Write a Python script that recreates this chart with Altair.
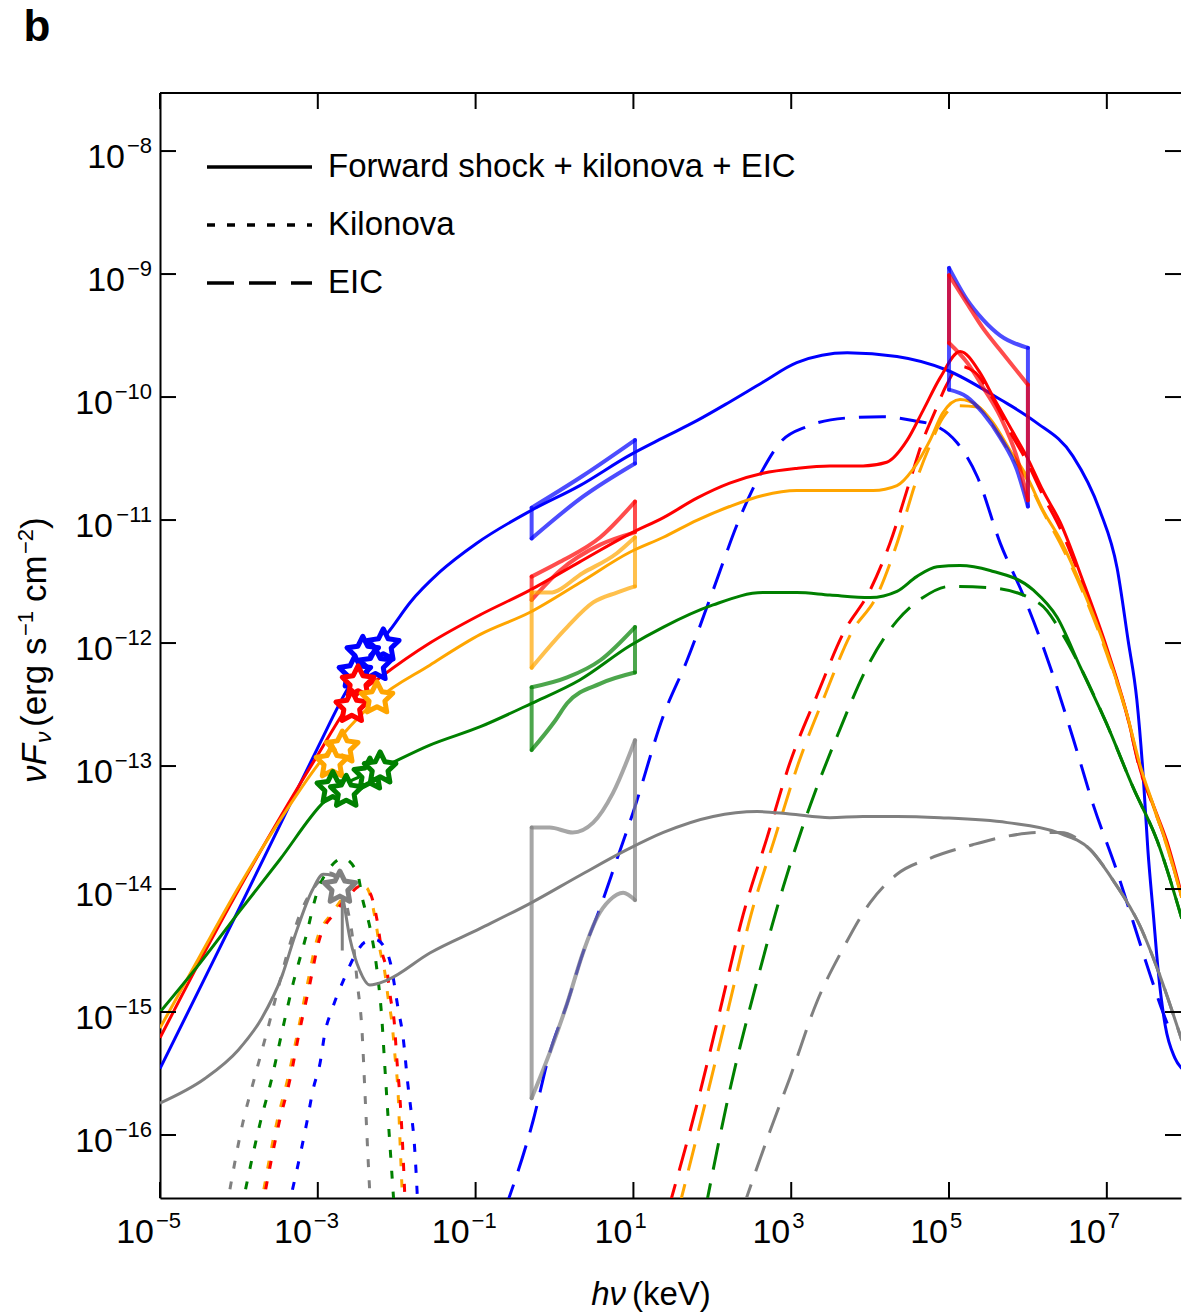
import math
import altair as alt
import pandas as pd

# ---------------- values (log10 units) ----------------
X_RANGE = [-5.0, 7.94]          # log10(h nu / keV)
Y_RANGE = [-16.512, -7.528]     # log10(nu F_nu / erg s-1 cm-2)
X_TICK_EXP = [-5, -3, -1, 1, 3, 5, 7]
Y_TICK_EXP = [-16, -15, -14, -13, -12, -11, -10, -9, -8]

SERIES = ["blue", "red", "orange", "green", "gray"]
SERIES_COLORS = ["#0000ff", "#ff0000", "#ffa500", "#008000", "#808080"]
LEGEND_LABELS = ["Forward shock + kilonova + EIC", "Kilonova", "EIC"]

# --- Forward shock + kilonova + EIC (solid) ---
blue_solid_lx = [-5.00, -4.49, -3.99, -3.48, -3.00, -2.62, -2.34, -2.08, -1.83, -1.45, -0.99, -0.29, 0.32, 0.96,
                 1.38, 1.81, 2.22, 2.64, 3.07, 3.71, 4.34, 4.97, 5.65, 6.09, 6.57, 6.91, 7.13, 7.27, 7.38, 7.46,
                 7.52, 7.59, 7.65, 7.74, 7.86, 7.95]
blue_solid_ly = [-15.46, -14.80, -14.15, -13.48, -12.85, -12.37, -12.10, -11.89, -11.67, -11.42, -11.19, -10.92,
                 -10.72, -10.47, -10.33, -10.19, -10.04, -9.88, -9.72, -9.64, -9.67, -9.78, -10.02, -10.20, -10.48,
                 -10.92, -11.39, -11.98, -12.46, -13.07, -13.68, -14.21, -14.66, -15.11, -15.37, -15.46]

red_solid_lx = [-5.00, -4.49, -3.99, -3.48, -3.00, -2.53, -2.21, -1.58, -0.94, -0.31, 0.32, 0.96, 1.38, 1.81, 2.22,
                2.64, 3.07, 3.49, 3.91, 4.21, 4.47, 4.67, 4.89, 5.14, 5.39, 5.56, 5.77, 5.99, 6.19, 6.41, 6.70,
                7.00, 7.26, 7.42, 7.59, 7.76, 7.95]
red_solid_ly = [-15.21, -14.58, -13.99, -13.42, -12.91, -12.44, -12.28, -12.00, -11.77, -11.57, -11.34, -11.11,
                -10.98, -10.82, -10.70, -10.62, -10.58, -10.56, -10.56, -10.53, -10.35, -10.11, -9.84, -9.63,
                -9.80, -10.00, -10.24, -10.49, -10.76, -11.02, -11.50, -12.04, -12.59, -13.02, -13.32, -13.61,
                -14.05]

orange_solid_lx = [-5.00, -4.49, -3.99, -3.48, -3.00, -2.72, -2.25, -1.58, -0.94, -0.31, 0.32, 0.96, 1.38, 1.81,
                   2.22, 2.64, 3.07, 3.49, 4.04, 4.34, 4.54, 4.76, 4.92, 5.14, 5.36, 5.56, 5.77, 5.99, 6.19, 6.41,
                   6.70, 7.00, 7.26, 7.42, 7.59, 7.76, 7.95]
orange_solid_ly = [-15.13, -14.54, -13.97, -13.44, -12.99, -12.77, -12.46, -12.18, -11.93, -11.75, -11.51, -11.26,
                   -11.14, -11.00, -10.89, -10.80, -10.76, -10.76, -10.76, -10.72, -10.59, -10.35, -10.13, -10.02,
                   -10.07, -10.21, -10.43, -10.65, -10.92, -11.16, -11.57, -12.07, -12.59, -12.99, -13.32, -13.64,
                   -14.07]

green_solid_lx = [-5.00, -4.49, -3.99, -3.48, -2.95, -2.66, -2.24, -1.58, -0.94, -0.29, 0.32, 0.96, 1.38, 2.01,
                  2.64, 3.07, 3.49, 4.00, 4.34, 4.59, 4.85, 5.14, 5.52, 6.07, 6.37, 6.66, 7.00, 7.33, 7.64, 7.95]
green_solid_ly = [-15.00, -14.60, -14.18, -13.76, -13.31, -13.15, -13.03, -12.83, -12.68, -12.49, -12.30, -12.02,
                  -11.87, -11.69, -11.59, -11.59, -11.61, -11.63, -11.58, -11.46, -11.38, -11.37, -11.41, -11.57,
                  -11.79, -12.19, -12.66, -13.17, -13.61, -14.24]

gray_solid_lx = [-5.00, -4.43, -4.01, -3.71, -3.45, -3.29, -3.07, -2.93, -2.81, -2.69, -2.59, -2.47, -2.34, -2.12,
                 -1.58, -0.94, -0.29, 0.32, 0.92, 1.38, 2.01, 2.57, 2.98, 3.49, 3.91, 4.34, 4.89, 5.74, 6.37, 6.79,
                 7.08, 7.42, 7.67, 7.95]
gray_solid_ly = [-15.74, -15.54, -15.31, -15.05, -14.70, -14.38, -14.01, -13.88, -13.89, -14.05, -14.41, -14.66,
                 -14.78, -14.74, -14.52, -14.32, -14.11, -13.89, -13.68, -13.54, -13.41, -13.37, -13.39, -13.42,
                 -13.41, -13.41, -13.42, -13.46, -13.54, -13.68, -13.93, -14.30, -14.70, -15.23]

# --- Kilonova (dotted) ---
gray_dot_lx = [-4.16, -3.95, -3.80, -3.64, -3.50, -3.35, -3.19, -3.00, -2.85, -2.72, -2.62, -2.55, -2.50, -2.44,
               -2.40, -2.36, -2.33]
gray_dot_ly = [-16.61, -15.90, -15.53, -15.15, -14.80, -14.44, -14.15, -13.95, -13.87, -13.93, -14.17, -14.44,
               -14.76, -15.15, -15.69, -16.23, -16.61]
green_dot_lx = [-3.97, -3.73, -3.58, -3.45, -3.31, -3.16, -3.00, -2.85, -2.68, -2.50, -2.43, -2.34, -2.25, -2.19,
                -2.15, -2.11, -2.07, -2.03]
green_dot_ly = [-16.61, -15.90, -15.53, -15.15, -14.76, -14.41, -14.01, -13.83, -13.75, -13.87, -14.09, -14.31,
                -14.66, -15.04, -15.45, -15.85, -16.23, -16.61]
orange_dot_lx = [-3.73, -3.52, -3.38, -3.25, -3.14, -3.01, -2.81, -2.63, -2.50, -2.38, -2.27, -2.21, -2.15, -2.11,
                 -2.06, -2.02, -1.98, -1.96, -1.92]
orange_dot_ly = [-16.61, -15.90, -15.54, -15.15, -14.80, -14.41, -14.19, -14.03, -13.96, -13.99, -14.25, -14.50,
                 -14.68, -14.88, -15.09, -15.37, -15.69, -16.02, -16.61]
red_dot_lx = [-3.71, -3.49, -3.35, -3.23, -3.11, -2.98, -2.78, -2.60, -2.47, -2.35, -2.25, -2.19, -2.12, -2.08,
              -2.03, -2.00, -1.96, -1.93, -1.89]
red_dot_ly = [-16.61, -15.90, -15.54, -15.15, -14.80, -14.41, -14.19, -14.05, -13.98, -14.02, -14.25, -14.50,
              -14.68, -14.88, -15.09, -15.37, -15.69, -16.02, -16.61]
blue_dot_lx = [-3.38, -3.14, -3.06, -2.97, -2.91, -2.82, -2.66, -2.53, -2.40, -2.27, -2.17, -2.08, -1.98, -1.92,
               -1.86, -1.81, -1.78, -1.73]
blue_dot_ly = [-16.61, -15.90, -15.63, -15.41, -15.17, -14.98, -14.72, -14.54, -14.43, -14.41, -14.46, -14.60,
               -14.98, -15.20, -15.58, -15.85, -16.04, -16.61]

# --- EIC (dashed) ---
blue_dash_lx = [-0.63, -0.27, -0.06, 0.16, 0.36, 0.58, 0.79, 1.00, 1.38, 1.68, 2.01, 2.35, 2.64, 2.86, 3.20, 3.71,
                4.16, 4.54, 4.85, 5.10, 5.36, 5.65, 5.94, 6.28, 6.57, 6.83, 7.13, 7.33, 7.55, 7.71, 7.80]
blue_dash_ly = [-16.61, -15.88, -15.33, -14.93, -14.52, -14.15, -13.76, -13.37, -12.59, -12.14, -11.57, -10.98,
                -10.59, -10.37, -10.24, -10.17, -10.16, -10.19, -10.24, -10.37, -10.65, -11.19, -11.61, -12.19,
                -12.77, -13.32, -13.86, -14.26, -14.70, -15.00, -15.15]
red_dash_lx = [1.44, 1.81, 2.10, 2.39, 2.69, 2.98, 3.33, 3.66, 4.00, 4.25, 4.51, 4.67, 4.82, 4.97, 5.14, 5.33,
               5.56, 5.77, 5.99, 6.19, 6.41, 6.70, 7.00, 7.26, 7.42, 7.59, 7.76, 7.95]
red_dash_ly = [-16.61, -15.74, -14.98, -14.21, -13.59, -12.98, -12.42, -11.92, -11.57, -11.19, -10.67, -10.35,
               -10.12, -9.90, -9.75, -9.80, -10.02, -10.28, -10.53, -10.80, -11.07, -11.53, -12.06, -12.60, -13.03,
               -13.33, -13.64, -14.07]
orange_dash_lx = [1.57, 1.91, 2.20, 2.49, 2.79, 3.09, 3.43, 3.76, 4.09, 4.34, 4.59, 4.76, 4.92, 5.10, 5.36, 5.56,
                  5.77, 5.99, 6.19, 6.41, 6.70, 7.00, 7.26, 7.42, 7.59, 7.76, 7.95]
orange_dash_ly = [-16.61, -15.74, -14.98, -14.21, -13.59, -12.98, -12.42, -11.92, -11.61, -11.19, -10.67, -10.39,
                  -10.17, -10.07, -10.08, -10.23, -10.45, -10.67, -10.93, -11.19, -11.59, -12.09, -12.60, -13.01,
                  -13.33, -13.65, -14.07]
green_dash_lx = [1.91, 2.22, 2.57, 2.90, 3.24, 3.58, 4.00, 4.34, 4.67, 5.01, 5.52, 6.15, 6.44, 6.66, 7.00, 7.33,
                 7.64, 7.95]
green_dash_ly = [-16.61, -15.64, -14.74, -13.98, -13.32, -12.76, -12.15, -11.82, -11.63, -11.54, -11.55, -11.68,
                 -11.93, -12.19, -12.66, -13.17, -13.61, -14.24]
gray_dash_lx = [2.38, 2.73, 2.98, 3.33, 3.66, 4.00, 4.34, 4.76, 5.30, 5.74, 6.15, 6.41, 6.79, 7.08, 7.42, 7.67,
                7.95]
gray_dash_ly = [-16.61, -15.97, -15.54, -14.91, -14.48, -14.11, -13.88, -13.75, -13.64, -13.57, -13.54, -13.54,
                -13.68, -13.93, -14.30, -14.70, -15.23]

# --- spectral bow-ties: upper and lower edges ---
blue_bt1_up_lx = [-0.29, 0.36, 1.02]
blue_bt1_up_ly = [-10.90, -10.64, -10.35]
blue_bt1_lo_lx = [-0.29, 0.36, 1.02]
blue_bt1_lo_ly = [-11.15, -10.81, -10.54]
red_bt1_up_lx = [-0.29, 0.07, 0.58, 1.02]
red_bt1_up_ly = [-11.46, -11.34, -11.14, -10.85]
red_bt1_lo_lx = [-0.29, 0.07, 0.58, 1.02]
red_bt1_lo_ly = [-11.65, -11.41, -11.20, -11.10]
orange_bt1_up_lx = [-0.29, -0.06, 0.36, 0.79, 1.02]
orange_bt1_up_ly = [-11.59, -11.59, -11.43, -11.27, -11.14]
orange_bt1_lo_lx = [-0.29, 0.16, 0.49, 0.79, 1.02]
orange_bt1_lo_ly = [-12.20, -11.87, -11.67, -11.59, -11.54]
green_bt1_up_lx = [-0.29, 0.16, 0.58, 1.02]
green_bt1_up_ly = [-12.36, -12.28, -12.14, -11.87]
green_bt1_lo_lx = [-0.29, 0.01, 0.16, 0.58, 1.02]
green_bt1_lo_ly = [-12.87, -12.63, -12.49, -12.33, -12.24]
gray_bt1_up_lx = [-0.29, -0.06, 0.23, 0.49, 0.74, 1.02]
gray_bt1_up_ly = [-13.50, -13.50, -13.54, -13.46, -13.22, -12.79]
gray_bt1_lo_lx = [-0.29, -0.06, 0.16, 0.36, 0.54, 0.70, 0.87, 1.02]
gray_bt1_lo_ly = [-15.70, -15.33, -14.93, -14.52, -14.23, -14.09, -14.03, -14.09]
blue_bt2_up_lx = [5.00, 5.23, 5.43, 5.65, 6.00]
blue_bt2_up_ly = [-8.95, -9.21, -9.37, -9.50, -9.60]
blue_bt2_lo_lx = [5.00, 5.23, 5.43, 5.65, 5.86, 6.00]
blue_bt2_lo_ly = [-9.94, -10.00, -10.13, -10.33, -10.59, -10.89]
red_bt2_up_lx = [5.00, 5.23, 5.43, 5.65, 6.00]
red_bt2_up_ly = [-9.01, -9.24, -9.44, -9.62, -9.90]
red_bt2_lo_lx = [5.00, 5.23, 5.43, 5.65, 5.86, 6.00]
red_bt2_lo_ly = [-9.56, -9.72, -9.92, -10.16, -10.49, -10.84]

# --- optical / UV data points (stars) ---
blue_star_lx = [-2.17, -2.43, -2.27, -2.53]
blue_star_ly = [-12.02, -12.08, -12.18, -12.24]
red_star_lx = [-2.49, -2.57]
red_star_ly = [-12.32, -12.52]
orange_star_lx = [-2.25, -2.69, -2.82]
orange_star_ly = [-12.45, -12.85, -12.97]
green_star_lx = [-2.81, -2.64, -2.34, -2.21]
green_star_ly = [-13.18, -13.21, -13.07, -13.02]
gray_star_lx = [-2.72]
gray_star_ly = [-13.99]
gray_bar_lx = [-2.69]
gray_bar_ly = [-13.99]
gray_bar_ly2 = [-14.50]

# ---------------- helpers ----------------
FONT = "Liberation Sans"
W, H = 1021, 1105
MINUS = "\u2212"


def frame(series, lx, ly, group=None):
    df = pd.DataFrame({"lx": lx, "ly": ly})
    df["x"] = 10.0 ** df["lx"]
    df["y"] = 10.0 ** df["ly"]
    df["series"] = series
    df["g"] = group or series
    df["i"] = range(len(df))
    return df


def bowtie(series, name, up_lx, up_ly, lo_lx, lo_ly):
    parts = [
        frame(series, up_lx, up_ly, name + "_up"),
        frame(series, lo_lx, lo_ly, name + "_lo"),
        frame(series, [up_lx[0], lo_lx[0]], [up_ly[0], lo_ly[0]], name + "_l"),
        frame(series, [up_lx[-1], lo_lx[-1]], [up_ly[-1], lo_ly[-1]], name + "_r"),
    ]
    return pd.concat(parts)


X_SCALE = alt.Scale(type="log", domain=[10.0 ** X_RANGE[0], 10.0 ** X_RANGE[1]], nice=False)
Y_SCALE = alt.Scale(type="log", domain=[10.0 ** Y_RANGE[0], 10.0 ** Y_RANGE[1]], nice=False)
X_AXIS = alt.Axis(values=[10.0 ** e for e in X_TICK_EXP], labels=False, title=None, ticks=False, tickSize=0,
                  grid=False, domainColor="black", domainWidth=2)
Y_AXIS = alt.Axis(values=[10.0 ** e for e in Y_TICK_EXP], labels=False, title=None, ticks=False, tickSize=0,
                  grid=False, domainColor="black", domainWidth=2)


def X():
    return alt.X("x:Q", scale=X_SCALE, axis=X_AXIS)


def Y():
    return alt.Y("y:Q", scale=Y_SCALE, axis=Y_AXIS)


COLOR = alt.Color("series:N", scale=alt.Scale(domain=SERIES, range=SERIES_COLORS), legend=None)
STROKE = alt.Stroke("series:N", scale=alt.Scale(domain=SERIES, range=SERIES_COLORS), legend=None)

solid_df = pd.concat([
    frame("blue", blue_solid_lx, blue_solid_ly),
    frame("red", red_solid_lx, red_solid_ly),
    frame("orange", orange_solid_lx, orange_solid_ly),
    frame("green", green_solid_lx, green_solid_ly),
    frame("gray", gray_solid_lx, gray_solid_ly),
])
dot_df = pd.concat([
    frame("gray", gray_dot_lx, gray_dot_ly),
    frame("green", green_dot_lx, green_dot_ly),
    frame("orange", orange_dot_lx, orange_dot_ly),
    frame("red", red_dot_lx, red_dot_ly),
    frame("blue", blue_dot_lx, blue_dot_ly),
])
dash_df = pd.concat([
    frame("blue", blue_dash_lx, blue_dash_ly),
    frame("red", red_dash_lx, red_dash_ly),
    frame("orange", orange_dash_lx, orange_dash_ly),
    frame("green", green_dash_lx, green_dash_ly),
    frame("gray", gray_dash_lx, gray_dash_ly),
])
bt_df = pd.concat([
    bowtie("blue", "b1", blue_bt1_up_lx, blue_bt1_up_ly, blue_bt1_lo_lx, blue_bt1_lo_ly),
    bowtie("red", "r1", red_bt1_up_lx, red_bt1_up_ly, red_bt1_lo_lx, red_bt1_lo_ly),
    bowtie("orange", "o1", orange_bt1_up_lx, orange_bt1_up_ly, orange_bt1_lo_lx, orange_bt1_lo_ly),
    bowtie("green", "g1", green_bt1_up_lx, green_bt1_up_ly, green_bt1_lo_lx, green_bt1_lo_ly),
    bowtie("gray", "k1", gray_bt1_up_lx, gray_bt1_up_ly, gray_bt1_lo_lx, gray_bt1_lo_ly),
    bowtie("blue", "b2", blue_bt2_up_lx, blue_bt2_up_ly, blue_bt2_lo_lx, blue_bt2_lo_ly),
    bowtie("red", "r2", red_bt2_up_lx, red_bt2_up_ly, red_bt2_lo_lx, red_bt2_lo_ly),
])
star_df = pd.concat([
    frame("blue", blue_star_lx, blue_star_ly),
    frame("red", red_star_lx, red_star_ly),
    frame("orange", orange_star_lx, orange_star_ly),
    frame("green", green_star_lx, green_star_ly),
    frame("gray", gray_star_lx, gray_star_ly),
])
bar_df = frame("gray", gray_bar_lx, gray_bar_ly)
bar_df["y2"] = [10.0 ** v for v in gray_bar_ly2]


def star_path(inner=0.5):
    pts = []
    for k in range(10):
        r = 1.0 if k % 2 == 0 else inner
        a = -math.pi / 2 + k * math.pi / 5
        pts.append((r * math.cos(a), r * math.sin(a)))
    return "M" + " L".join(f"{px:.3f},{py:.3f}" for px, py in pts) + " Z"


DOT = [8, 13]
DASH = [27, 14]


def curves(df, dash=None, width=3):
    kw = dict(clip=True, interpolate="monotone", strokeWidth=width)
    if dash:
        kw["strokeDash"] = dash
    return alt.Chart(df).mark_line(**kw).encode(x=X(), y=Y(), color=COLOR, detail="g:N", order="i:Q")


dashed = curves(dash_df, DASH)
dotted = curves(dot_df, DOT)
solid = curves(solid_df)
bowties = alt.Chart(bt_df).mark_line(clip=True, interpolate="monotone", strokeWidth=4, opacity=0.7,
                                     strokeCap="round").encode(
    x=X(), y=Y(), color=COLOR, detail="g:N", order="i:Q")
errbar = alt.Chart(bar_df).mark_rule(color="#808080", strokeWidth=3).encode(x=X(), y=Y(), y2="y2:Q")
stars = alt.Chart(star_df).mark_point(shape=star_path(), size=1100, fill="white", fillOpacity=1,
                                      strokeWidth=5, opacity=1, strokeJoin="round").encode(
    x=X(), y=Y(), stroke=STROKE)

# --- frame ticks (pointing inwards) ---
xt = pd.DataFrame({"x": [10.0 ** e for e in X_TICK_EXP]})
yt = pd.DataFrame({"y": [10.0 ** e for e in Y_TICK_EXP]})
TK = 16
tick_bottom = alt.Chart(xt).mark_rule(color="black", strokeWidth=2).encode(
    x=X(), y=alt.value(H), y2=alt.value(H - TK))
tick_top = alt.Chart(xt).mark_rule(color="black", strokeWidth=2).encode(
    x=X(), y=alt.value(0), y2=alt.value(TK))
tick_left = alt.Chart(yt).mark_rule(color="black", strokeWidth=2).encode(
    y=Y(), x=alt.value(0), x2=alt.value(TK))
tick_right = alt.Chart(yt).mark_rule(color="black", strokeWidth=2).encode(
    y=Y(), x=alt.value(W), x2=alt.value(W - TK))

one = pd.DataFrame({"k": [0]})
top_border = alt.Chart(one).mark_rule(color="black", strokeWidth=2).encode(
    x=alt.value(0), x2=alt.value(W), y=alt.value(0))


# --- tick labels as "10" + raised exponent ---
def exp_df(field, exps):
    return pd.DataFrame({field: [10.0 ** e for e in exps],
                         "lab": [str(e).replace("-", MINUS) for e in exps]})


LBL = dict(font=FONT, color="black", baseline="alphabetic")
y_one = exp_df("y", [e for e in Y_TICK_EXP if e > -10])
y_two = exp_df("y", [e for e in Y_TICK_EXP if e <= -10])
y_all = exp_df("y", Y_TICK_EXP)
ylab_10a = alt.Chart(y_one).mark_text(text="10", align="right", fontSize=34, dy=17, **LBL).encode(
    y=Y(), x=alt.value(-35))
ylab_10b = alt.Chart(y_two).mark_text(text="10", align="right", fontSize=34, dy=17, **LBL).encode(
    y=Y(), x=alt.value(-47))
ylab_exp = alt.Chart(y_all).mark_text(align="right", fontSize=22, dy=2, **LBL).encode(
    y=Y(), x=alt.value(-8), text="lab:N")

x_neg = exp_df("x", [e for e in X_TICK_EXP if e < 0])
x_pos = exp_df("x", [e for e in X_TICK_EXP if e > 0])
xlab_10n = alt.Chart(x_neg).mark_text(text="10", align="right", fontSize=34, dx=-6, **LBL).encode(
    x=X(), y=alt.value(H + 45))
xlab_10p = alt.Chart(x_pos).mark_text(text="10", align="right", fontSize=34, dx=-1, **LBL).encode(
    x=X(), y=alt.value(H + 45))
xlab_en = alt.Chart(x_neg).mark_text(align="left", fontSize=22, dx=-4, **LBL).encode(
    x=X(), y=alt.value(H + 30), text="lab:N")
xlab_ep = alt.Chart(x_pos).mark_text(align="left", fontSize=22, dx=1, **LBL).encode(
    x=X(), y=alt.value(H + 30), text="lab:N")

# --- legend ---
legend_layers = []
for idx, (label, dash) in enumerate(zip(LEGEND_LABELS, [None, [8, 12], [27, 15]])):
    yy = 74 + 58 * idx
    kw = dict(color="black", strokeWidth=3.5)
    if dash:
        kw["strokeDash"] = dash
    legend_layers.append(alt.Chart(one).mark_rule(**kw).encode(
        x=alt.value(47), x2=alt.value(152), y=alt.value(yy)))
    legend_layers.append(alt.Chart(one).mark_text(
        text=label, align="left", baseline="middle", font=FONT, fontSize=33, color="black").encode(
        x=alt.value(168), y=alt.value(yy)))

panel_letter = alt.Chart(one).mark_text(text="b", font=FONT, fontSize=44, fontWeight="bold",
                                        align="center", baseline="middle", color="black").encode(
    x=alt.value(-123), y=alt.value(-65))

# --- axis titles ---
xt1 = alt.Chart(one).mark_text(text="h\u03bd", font=FONT, fontSize=33, fontStyle="italic",
                               align="right", baseline="middle", color="black").encode(
    x=alt.value(466), y=alt.value(1202))
xt2 = alt.Chart(one).mark_text(text="(keV)", font=FONT, fontSize=33,
                               align="left", baseline="middle", color="black").encode(
    x=alt.value(472), y=alt.value(1202))

YT = dict(font=FONT, angle=270, align="left", baseline="middle", color="black")
ytitle = [
    alt.Chart(one).mark_text(text="\u03bdF", fontSize=35, fontStyle="italic", **YT).encode(
        x=alt.value(-125), y=alt.value(690)),
    alt.Chart(one).mark_text(text="\u03bd", fontSize=23, fontStyle="italic", **YT).encode(
        x=alt.value(-116), y=alt.value(650)),
    alt.Chart(one).mark_text(text="(erg s", fontSize=35, **YT).encode(
        x=alt.value(-125), y=alt.value(634)),
    alt.Chart(one).mark_text(text=MINUS + "1", fontSize=22, **YT).encode(
        x=alt.value(-134), y=alt.value(543)),
    alt.Chart(one).mark_text(text="cm", fontSize=35, **YT).encode(
        x=alt.value(-125), y=alt.value(509)),
    alt.Chart(one).mark_text(text=MINUS + "2", fontSize=22, **YT).encode(
        x=alt.value(-134), y=alt.value(461)),
    alt.Chart(one).mark_text(text=")", fontSize=35, **YT).encode(
        x=alt.value(-125), y=alt.value(436)),
]

chart = alt.layer(
    dashed, dotted, solid, bowties, errbar, stars,
    tick_bottom, tick_top, tick_left, tick_right, top_border,
    ylab_10a, ylab_10b, ylab_exp, xlab_10n, xlab_10p, xlab_en, xlab_ep,
    *legend_layers, panel_letter, xt1, xt2, *ytitle,
).properties(
    width=W, height=H,
    padding={"left": 160, "top": 93, "right": 1, "bottom": 117},
    autosize=alt.AutoSizeParams(type="none"),
    background="white",
).configure_view(stroke=None)

chart.save("out.html", embed_options={"renderer": "svg", "actions": False})
